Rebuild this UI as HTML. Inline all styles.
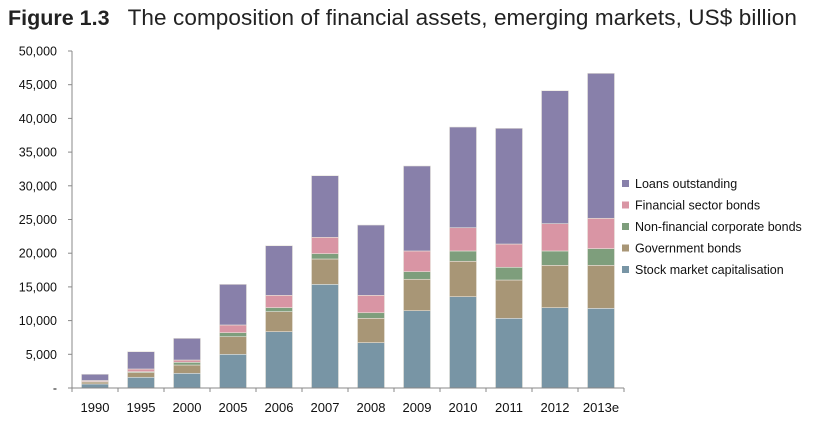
<!DOCTYPE html>
<html><head><meta charset="utf-8"><style>
body{margin:0;background:#fff;width:829px;height:428px;overflow:hidden;font-family:"Liberation Sans",sans-serif}
#title{position:absolute;left:8px;top:5px;font-size:21px;color:#222;white-space:nowrap}
#title b{display:inline-block;margin-right:18px;font-size:21.5px}
#title span{font-size:22.5px;letter-spacing:0.1px}
</style></head><body>
<div id="title"><b>Figure 1.3</b><span>The composition of financial assets, emerging markets, US$ billion</span></div>
<svg id="chart" width="829" height="428" style="position:absolute;left:0;top:0"></svg>
<script>
const categories=["1990","1995","2000","2005","2006","2007","2008","2009","2010","2011","2012","2013e"];
const stockMarket=[600,1590,2180,5000,8360,15380,6730,11470,13550,10340,11920,11820];
const governmentBonds=[300,700,1230,2610,2970,3760,3610,4660,5250,5680,6280,6380];
const nonFinancialBonds=[60,130,400,600,590,790,830,1130,1530,1890,2130,2480];
const financialBonds=[150,400,340,1140,1830,2430,2580,3070,3450,3450,4050,4500];
const loans=[930,2570,3220,6030,7360,9140,10430,12610,14940,17170,19730,21510];
const yTicks=[0,5000,10000,15000,20000,25000,30000,35000,40000,45000,50000];
const yTickLabels=["-","5,000","10,000","15,000","20,000","25,000","30,000","35,000","40,000","45,000","50,000"];
const seriesNames=["Loans outstanding","Financial sector bonds","Non-financial corporate bonds","Government bonds","Stock market capitalisation"];
const NS="http://www.w3.org/2000/svg";
const svg=document.getElementById('chart');
const x0=72,step=46,y0=388,yTop=51,yMax=50000,bw=27;
const y=v=>y0-(v/yMax)*(y0-yTop);
const xc=i=>x0+step/2+step*i;
function mk(t,a){const e=document.createElementNS(NS,t);for(const k in a)e.setAttribute(k,a[k]);svg.appendChild(e);return e;}
const series=[stockMarket,governmentBonds,nonFinancialBonds,financialBonds,loans];
const colors=["#7895a5","#a89676","#7e9e7c","#d995a4","#8880aa"];
const snames=["stock","government","nonfinancial","financial","loans"];
categories.forEach((c,i)=>{
  let base=0;
  series.forEach((s,k)=>{
    const r=mk('rect',{x:xc(i)-bw/2,y:y(base+s[i]),width:bw,height:y(base)-y(base+s[i]),fill:colors[k],stroke:'#e8e4dc','stroke-width':0.6});
    
    
    base+=s[i];
  });
  const t=mk('text',{x:xc(i),y:412,'text-anchor':'middle','font-size':13,fill:'#111'});
  t.textContent=c;
  
  
  const tk=mk('line',{x1:x0+step*i,x2:x0+step*i,y1:y0,y2:y0+4,stroke:'#888'});
  
  
});
const lt=mk('line',{x1:x0+step*12,x2:x0+step*12,y1:y0,y2:y0+4,stroke:'#888'});


yTicks.forEach((v,i)=>{
  const l=mk('line',{x1:x0-4,x2:x0,y1:y(v),y2:y(v),stroke:'#888'});
  
  
  const t=mk('text',{x:57,y:y(v)+4.5,'text-anchor':'end','font-size':12.5,fill:'#111'});
  t.textContent=yTickLabels[i];
  
  
});
const ya=mk('line',{x1:x0,x2:x0,y1:yTop,y2:y0,stroke:'#888'});


const xa=mk('line',{x1:x0-4,x2:x0+step*12,y1:y0,y2:y0,stroke:'#888'});


const legColors=["#8880aa","#d995a4","#7e9e7c","#a89676","#7895a5"];
seriesNames.forEach((n,i)=>{
  const yy=184+i*21.5;
  const r=mk('rect',{x:622,y:yy-4,width:7,height:7,fill:legColors[i]});
  
  
  const t=mk('text',{x:635,y:yy+4,'font-size':12.5,fill:'#111'});
  t.textContent=n;
  
  
});
</script>
</body></html>
